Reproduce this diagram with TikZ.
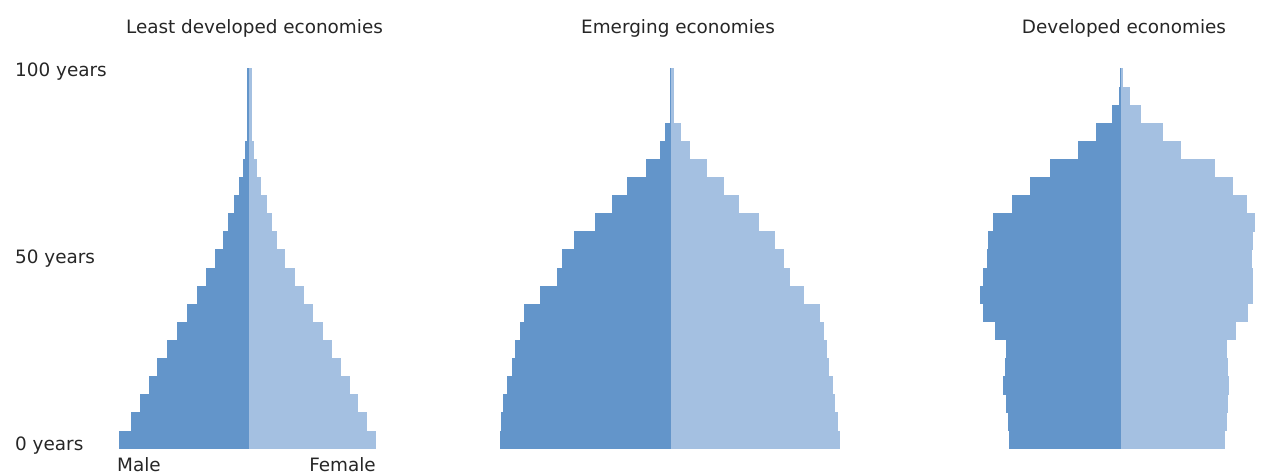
\documentclass[tikz,border=0pt]{standalone}
\usepackage{fontspec}
\setmainfont{DejaVu Sans}
\usepackage{xcolor}
\usepackage{tikz}
\usetikzlibrary{positioning}

\definecolor{maleblue}{RGB}{99,149,202}
\definecolor{femaleblue}{RGB}{164,192,225}

\begin{document}
\begin{tikzpicture}[x=1pt, y=-1pt,
  font=\fontsize{18.4}{22}\selectfont,
  lbl/.style={text=black!85, inner sep=0pt},
  male/.style={fill=maleblue},
  female/.style={fill=femaleblue}]
  \useasboundingbox (0,0) rectangle (1261,473);
  % Least developed economies (centre 249)
  \foreach \k/\m/\f in {0/130/127, 1/118/118, 2/109/109, 3/100/101, 4/92/92,
      5/82/83, 6/72/74, 7/62/64, 8/52/55, 9/43/46, 10/34/36, 11/26/28,
      12/21/23, 13/15/18, 14/10/12, 15/6/8, 16/4/5, 17/2.5/3, 18/2.5/3,
      19/2.5/3, 20/2.5/3}{
    \fill[male] ({249-\m},{449-18.1*\k}) rectangle (249,{449-18.1*(\k+1)-0.4});
    \fill[female] (249,{449-18.1*\k}) rectangle ({249+\f},{449-18.1*(\k+1)-0.4});
  }
  % Emerging economies (centre 671)
  \foreach \k/\m/\f in {0/171/169, 1/170/167, 2/168/164, 3/164/162, 4/159/158,
      5/156/156, 6/151/153, 7/147/149, 8/131/133, 9/114/119, 10/109/113,
      11/97/104, 12/76/88, 13/59/68, 14/44/53, 15/25/36, 16/11/19, 17/6/10,
      18/1.5/2.5, 19/1.5/2.5, 20/1.5/2.5}{
    \fill[male] ({671-\m},{449-18.1*\k}) rectangle (671,{449-18.1*(\k+1)-0.4});
    \fill[female] (671,{449-18.1*\k}) rectangle ({671+\f},{449-18.1*(\k+1)-0.4});
  }
  % Developed economies (centre 1121)
  \foreach \k/\m/\f in {0/112/104, 1/113/106, 2/115/107, 3/118/108, 4/116/107,
      5/115/106, 6/126/115, 7/138/127, 8/141/132, 9/138/132, 10/134/131,
      11/133/132, 12/128/134, 13/109/126, 14/91/112, 15/71/94, 16/43/60,
      17/25/42, 18/9/20, 19/2.3/8.5, 20/1.5/2}{
    \fill[male] ({1121-\m},{449-18.1*\k}) rectangle (1121,{449-18.1*(\k+1)-0.4});
    \fill[female] (1121,{449-18.1*\k}) rectangle ({1121+\f},{449-18.1*(\k+1)-0.4});
  }
  % titles
  \node[lbl, anchor=base] (tLeast) at (254.5,33.3) {Least developed economies};
  \node[lbl, anchor=base] (tEmerging) at (678,33.3) {Emerging economies};
  \node[lbl, anchor=base] (tDeveloped) at (1124,33.3) {Developed economies};
  % age axis
  \node[lbl, anchor=base west] (age100) at (15,76.7) {100 years};
  \node[lbl, anchor=base west] (age50) at (15,263.3) {50 years};
  \node[lbl, anchor=base west] (age0) at (15,450) {0 years};
  % sexes
  \node[lbl, anchor=base west] (male) at (117,471) {Male};
  \node[lbl, anchor=base east] (female) at (376,471) {Female};
\end{tikzpicture}
\end{document}
